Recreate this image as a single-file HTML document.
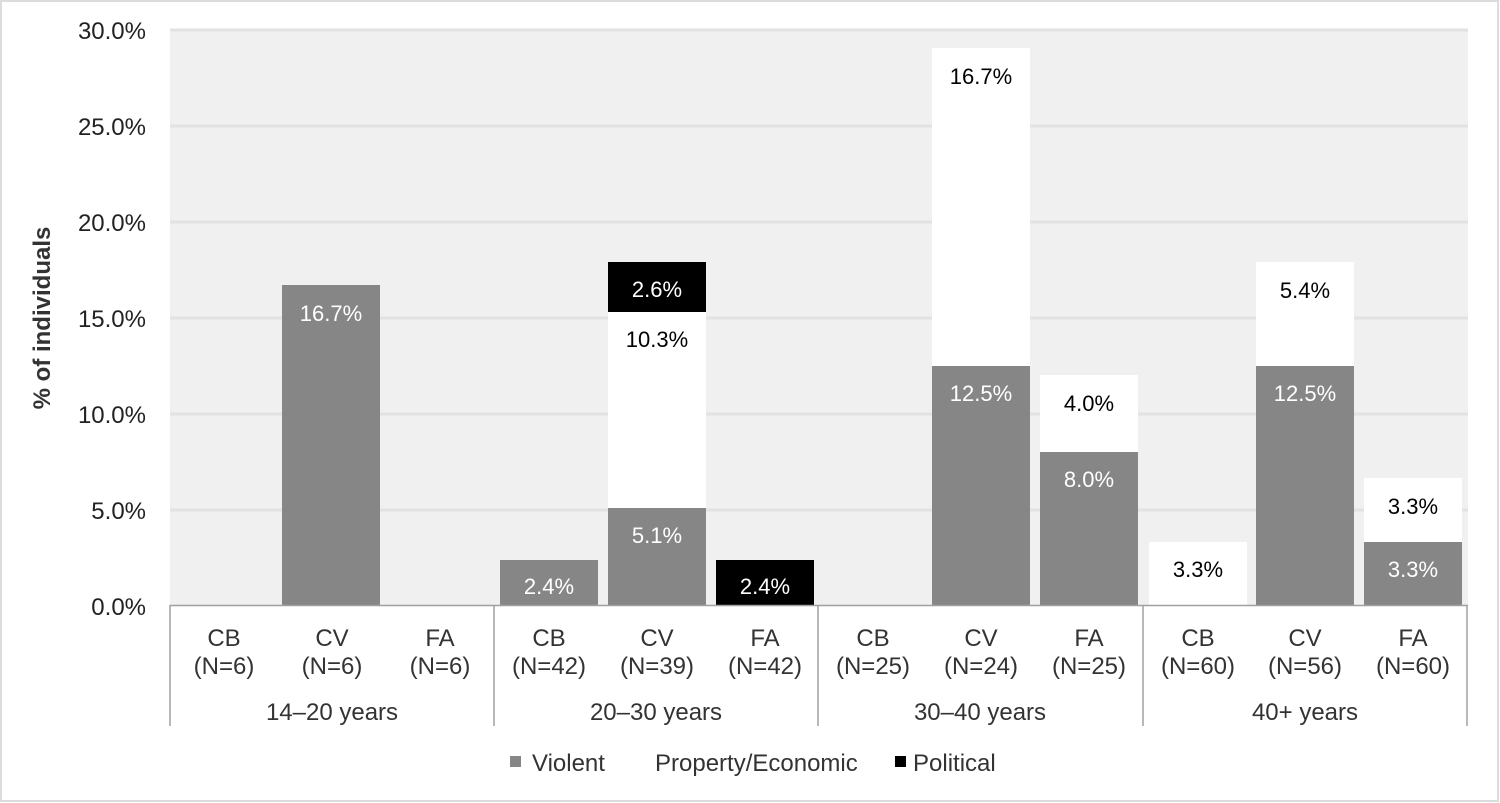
<!DOCTYPE html>
<html><head><meta charset="utf-8"><style>
html,body{margin:0;padding:0;background:#fff;}
svg{display:block;}
text{font-family:"Liberation Sans",Arial,sans-serif;}
</style></head><body>
<svg width="1500" height="803" viewBox="0 0 1500 803" xmlns="http://www.w3.org/2000/svg">
<rect x="1" y="1" width="1497" height="800" fill="#fff" stroke="#dcdcdc" stroke-width="2"/>
<rect x="170" y="30" width="1298" height="576" fill="#f0f0f0"/>
<g stroke="#e2e2e2" stroke-width="3">
<line x1="170" y1="30" x2="1468" y2="30"/>
<line x1="170" y1="126" x2="1468" y2="126"/>
<line x1="170" y1="222" x2="1468" y2="222"/>
<line x1="170" y1="318" x2="1468" y2="318"/>
<line x1="170" y1="414" x2="1468" y2="414"/>
<line x1="170" y1="510" x2="1468" y2="510"/>
</g>
<g font-size="24" fill="#222" text-anchor="end">
<text x="146" y="39">30.0%</text>
<text x="146" y="135">25.0%</text>
<text x="146" y="231">20.0%</text>
<text x="146" y="327">15.0%</text>
<text x="146" y="423">10.0%</text>
<text x="146" y="519">5.0%</text>
<text x="146" y="615">0.0%</text>
</g>
<text x="50" y="318" font-size="24" font-weight="bold" fill="#333" text-anchor="middle" transform="rotate(-90 50 318)">% of individuals</text>
<g>
<rect x="282" y="285" width="98" height="321" fill="#868686"/>
<rect x="500" y="560" width="98" height="46" fill="#868686"/>
<rect x="608" y="508" width="98" height="98" fill="#868686"/>
<rect x="608" y="310" width="98" height="198" fill="#fff"/>
<rect x="608" y="262" width="98" height="50" fill="#000"/>
<rect x="716" y="560" width="98" height="46" fill="#000"/>
<rect x="932" y="366" width="98" height="240" fill="#868686"/>
<rect x="932" y="48" width="98" height="318" fill="#fff"/>
<rect x="1040" y="452" width="98" height="154" fill="#868686"/>
<rect x="1040" y="375" width="98" height="77" fill="#fff"/>
<rect x="1149" y="542" width="98" height="64" fill="#fff"/>
<rect x="1256" y="366" width="98" height="240" fill="#868686"/>
<rect x="1256" y="262" width="98" height="104" fill="#fff"/>
<rect x="1364" y="542" width="98" height="64" fill="#868686"/>
<rect x="1364" y="478" width="98" height="64" fill="#fff"/>
</g>
<g font-size="22" text-anchor="middle">
<text x="331" y="321" fill="#fff">16.7%</text>
<text x="549" y="594" fill="#fff">2.4%</text>
<text x="657" y="543" fill="#fff">5.1%</text>
<text x="657" y="347" fill="#000">10.3%</text>
<text x="657" y="297" fill="#fff">2.6%</text>
<text x="765" y="594" fill="#fff">2.4%</text>
<text x="981" y="401" fill="#fff">12.5%</text>
<text x="981" y="84" fill="#000">16.7%</text>
<text x="1089" y="487" fill="#fff">8.0%</text>
<text x="1089" y="411" fill="#000">4.0%</text>
<text x="1198" y="577" fill="#000">3.3%</text>
<text x="1305" y="401" fill="#fff">12.5%</text>
<text x="1305" y="298" fill="#000">5.4%</text>
<text x="1413" y="577" fill="#fff">3.3%</text>
<text x="1413" y="514" fill="#000">3.3%</text>
</g>
<line x1="170" y1="605.5" x2="1468" y2="605.5" stroke="#a0a0a0" stroke-width="1.5"/>
<g stroke="#a0a0a0" stroke-width="1.5">
<line x1="170" y1="605" x2="170" y2="726"/>
<line x1="494" y1="605" x2="494" y2="726"/>
<line x1="818" y1="605" x2="818" y2="726"/>
<line x1="1143" y1="605" x2="1143" y2="726"/>
<line x1="1467" y1="605" x2="1467" y2="726"/>
</g>
<g font-size="24" fill="#333" text-anchor="middle">
<text x="224" y="646">CB</text><text x="224" y="674">(N=6)</text>
<text x="332" y="646">CV</text><text x="332" y="674">(N=6)</text>
<text x="440" y="646">FA</text><text x="440" y="674">(N=6)</text>
<text x="549" y="646">CB</text><text x="549" y="674">(N=42)</text>
<text x="657" y="646">CV</text><text x="657" y="674">(N=39)</text>
<text x="765" y="646">FA</text><text x="765" y="674">(N=42)</text>
<text x="873" y="646">CB</text><text x="873" y="674">(N=25)</text>
<text x="981" y="646">CV</text><text x="981" y="674">(N=24)</text>
<text x="1089" y="646">FA</text><text x="1089" y="674">(N=25)</text>
<text x="1198" y="646">CB</text><text x="1198" y="674">(N=60)</text>
<text x="1305" y="646">CV</text><text x="1305" y="674">(N=56)</text>
<text x="1413" y="646">FA</text><text x="1413" y="674">(N=60)</text>
<text x="332" y="720">14–20 years</text>
<text x="656" y="720">20–30 years</text>
<text x="980" y="720">30–40 years</text>
<text x="1305" y="720">40+ years</text>
</g>
<rect x="510" y="756" width="11" height="11" fill="#868686"/>
<rect x="895" y="756" width="11" height="11" fill="#000"/>
<g font-size="24" fill="#333">
<text x="532" y="771">Violent</text>
<text x="655" y="771">Property/Economic</text>
<text x="913" y="771">Political</text>
</g>
</svg>
</body></html>
